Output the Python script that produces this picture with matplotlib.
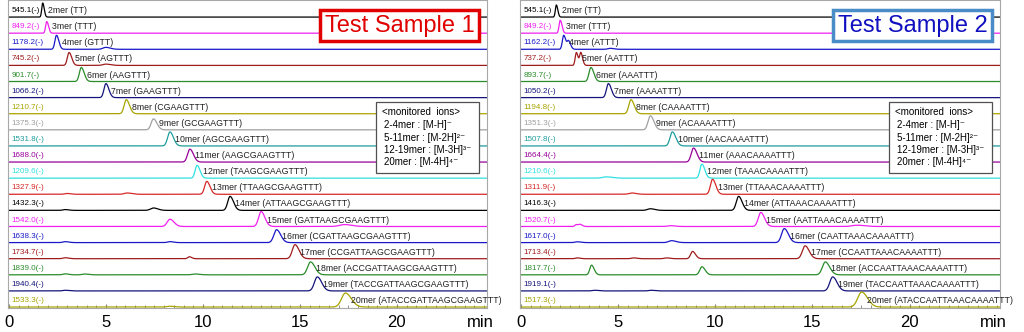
import numpy as np
import matplotlib
matplotlib.use("Agg")
import matplotlib.pyplot as plt
from matplotlib.patches import Rectangle
from matplotlib.ticker import MultipleLocator

plt.rcParams["font.family"] = ["Liberation Sans", "DejaVu Sans"]

# ------------------------------------------------------------
#  Daten
# ------------------------------------------------------------
trace_colors = ["#000000", "#F020F0", "#1818C8", "#A01C1C", "#2A8C2A", "#14147C",
                "#A8A400", "#A0A0A0", "#1E9C9C", "#980098", "#30E0E0", "#D82828",
                "#000000", "#F020F0", "#1818C8", "#A01C1C", "#2A8C2A", "#14147C",
                "#A8A400"]

left_mz = ["545.1", "849.2", "1178.2", "745.2", "901.7", "1066.2", "1210.7", "1375.3",
           "1531.8", "1688.0", "1209.6", "1327.9", "1432.3", "1542.0", "1638.3",
           "1734.7", "1839.0", "1940.4", "1533.3"]
left_names = ["2mer (TT)", "3mer (TTT)", "4mer (GTTT)", "5mer (AGTTT)", "6mer (AAGTTT)",
              "7mer (GAAGTTT)", "8mer (CGAAGTTT)", "9mer (GCGAAGTTT)", "10mer (AGCGAAGTTT)",
              "11mer (AAGCGAAGTTT)", "12mer (TAAGCGAAGTTT)", "13mer (TTAAGCGAAGTTT)",
              "14mer (ATTAAGCGAAGTTT)", "15mer (GATTAAGCGAAGTTT)", "16mer (CGATTAAGCGAAGTTT)",
              "17mer (CCGATTAAGCGAAGTTT)", "18mer (ACCGATTAAGCGAAGTTT)",
              "19mer (TACCGATTAAGCGAAGTTT)", "20mer (ATACCGATTAAGCGAAGTTT)"]
left_rt = [1.74, 1.95, 2.45, 3.1, 3.73, 5.0, 6.05, 7.45, 8.3, 9.33,
           9.7, 10.2, 11.4, 13.0, 13.8, 14.75, 15.55, 15.9, 17.35]
left_height = [0.87, 0.72, 0.87, 0.8, 0.87, 0.87, 0.87, 0.68, 0.87, 0.8,
               0.8, 0.8, 0.87, 0.93, 0.8, 0.87, 0.8, 0.87, 0.87]
left_width = [0.05, 0.06, 0.08, 0.09, 0.1, 0.1, 0.11, 0.12, 0.12, 0.12,
              0.1, 0.11, 0.12, 0.13, 0.14, 0.14, 0.15, 0.15, 0.2]
# Nebenpeaks: (rt, Hoehe, Breite)
left_minor = [[], [], [(5.0, 0.12, 0.15)], [(5.0, 0.08, 0.15)], [], [], [], [], [], [],
              [], [(3.0, 0.05, 0.12), (6.1, 0.08, 0.15)],
              [(2.9, 0.05, 0.12), (7.45, 0.15, 0.15)],
              [(8.3, 0.45, 0.14), (17.3, 0.12, 0.25)],
              [(2.9, 0.06, 0.12), (8.3, 0.06, 0.12)],
              [(2.9, 0.06, 0.12), (9.3, 0.12, 0.08)],
              [(2.9, 0.06, 0.12), (3.9, 0.05, 0.12), (9.6, 0.05, 0.15)],
              [(2.9, 0.04, 0.12)], [(8.3, 0.05, 0.15)]]

right_mz = ["545.1", "849.2", "1162.2", "737.2", "893.7", "1050.2", "1194.8", "1351.3",
            "1507.8", "1664.4", "1210.6", "1311.9", "1416.3", "1520.7", "1617.0",
            "1713.4", "1817.7", "1919.1", "1517.3"]
right_names = ["2mer (TT)", "3mer (TTT)", "4mer (ATTT)", "5mer (AATTT)", "6mer (AAATTT)",
               "7mer (AAAATTT)", "8mer (CAAAATTT)", "9mer (ACAAAATTT)", "10mer (AACAAAATTT)",
               "11mer (AAACAAAATTT)", "12mer (TAAACAAAATTT)", "13mer (TTAAACAAAATTT)",
               "14mer (ATTAAACAAAATTT)", "15mer (AATTAAACAAAATTT)", "16mer (CAATTAAACAAAATTT)",
               "17mer (CCAATTAAACAAAATTT)", "18mer (ACCAATTAAACAAAATTT)",
               "19mer (TACCAATTAAACAAAATTT)", "20mer (ATACCAATTAAACAAAATTT)"]
right_rt = [1.82, 2.02, 2.2, 2.85, 3.6, 4.5, 5.66, 6.66, 7.79, 8.88,
            9.31, 9.86, 11.2, 12.34, 13.55, 14.62, 15.66, 16.04, 17.53]
right_height = [0.75, 0.8, 0.87, 0.8, 0.87, 0.87, 0.87, 0.87, 0.87, 0.87,
                0.87, 0.93, 0.87, 0.87, 0.87, 0.8, 0.8, 0.87, 0.93]
right_width = [0.05, 0.06, 0.07, 0.06, 0.1, 0.1, 0.11, 0.12, 0.12, 0.12,
               0.1, 0.11, 0.12, 0.13, 0.14, 0.14, 0.15, 0.15, 0.2]
right_minor = [[], [], [(2.45, 0.5, 0.07), (4.6, 0.06, 0.12)], [(3.08, 0.78, 0.06)],
               [], [], [], [], [], [],
               [(4.4, 0.08, 0.2)], [(5.7, 0.08, 0.15)], [(6.66, 0.1, 0.15)],
               [(2.85, 0.12, 0.07), (3.05, 0.12, 0.07), (7.7, 0.05, 0.15), (17.3, 0.08, 0.25)],
               [(2.9, 0.05, 0.12), (7.75, 0.12, 0.15)],
               [(8.83, 0.45, 0.1), (2.9, 0.05, 0.1), (5.8, 0.05, 0.12), (7.5, 0.05, 0.12)],
               [(3.63, 0.6, 0.09), (9.31, 0.5, 0.11)],
               [(3.8, 0.04, 0.12), (6.7, 0.04, 0.12)], []]

ion_lines = ["<monitored  ions>",
             "2-4mer : [M-H]\u207b",
             "5-11mer : [M-2H]\u00b2\u207b",
             "12-19mer : [M-3H]\u00b3\u207b",
             "20mer : [M-4H]\u2074\u207b"]

T_MAX = 24.65


def peak(t, c, h, w):
    s = np.where(t < c, w, 1.5 * w)
    return h * np.exp(-0.5 * ((t - c) / s) ** 2)


def panel(ax, mz, names, rt, height, width, minor, title, title_col, box_col):
    t = np.linspace(0, T_MAX, 3000)
    n = len(mz)
    for i in range(n):
        base = n - 1 - i
        col = trace_colors[i]
        y = np.zeros_like(t)
        for c, h, w in [(rt[i], height[i], width[i])] + minor[i]:
            y += peak(t, c, h, w)
        ax.plot(t, base + y, color=col, lw=0.9)
        ax.text(0.12, base + 0.4, f"{mz[i]}(-)", color=col, fontsize=5.8, va="center")
        ax.text(rt[i] + 0.28, base + 0.4, names[i], color="#202020", fontsize=6.3,
                va="center", clip_on=False)

    ax.set_xlim(-0.05, T_MAX)
    ax.set_ylim(-0.06, n + 0.06)
    ax.set_yticks([])
    ax.set_xticks([0, 5, 10, 15, 20])
    ax.xaxis.set_minor_locator(MultipleLocator(0.5))
    ax.tick_params(axis="x", which="both", direction="in", colors="#808080",
                   labelcolor="black", labelsize=12, pad=5)
    ax.tick_params(axis="x", which="major", length=3)
    ax.tick_params(axis="x", which="minor", length=2)
    for sp in ax.spines.values():
        sp.set_color("#A8A8A8")
        sp.set_linewidth(0.8)
    ax.annotate("min", xy=(24.3, 0), xycoords=("data", "axes fraction"),
                xytext=(0, -5), textcoords="offset points", ha="center", va="top",
                fontsize=12, annotation_clip=False)

    ax.text(0.818, 0.917, title, transform=ax.transAxes, color=title_col, fontsize=17,
            ha="center", va="center", zorder=5,
            bbox=dict(boxstyle="square,pad=0.2", fc="white", ec=box_col, lw=2.5))

    ax.add_patch(Rectangle((0.768, 0.438), 0.215, 0.231, transform=ax.transAxes,
                           fc="white", ec="#505050", lw=0.9, zorder=5))
    ys = [0.636, 0.594, 0.553, 0.513, 0.473]
    for k, (line, yy) in enumerate(zip(ion_lines, ys)):
        ax.text(0.781 if k == 0 else 0.785, yy, line, transform=ax.transAxes,
                fontsize=7, va="center", ha="left", zorder=6)


fig = plt.figure(figsize=(10.24, 3.32), dpi=100)
ax1 = fig.add_axes([8 / 1024, 24 / 332, 479 / 1024, 308 / 332])
ax2 = fig.add_axes([520 / 1024, 24 / 332, 480 / 1024, 308 / 332])

panel(ax1, left_mz, left_names, left_rt, left_height, left_width, left_minor,
      "Test Sample 1", "#E00000", "#E00000")
panel(ax2, right_mz, right_names, right_rt, right_height, right_width, right_minor,
      "Test Sample 2", "#1010C0", "#4A8CC8")

fig.savefig("out.png", dpi=100)
